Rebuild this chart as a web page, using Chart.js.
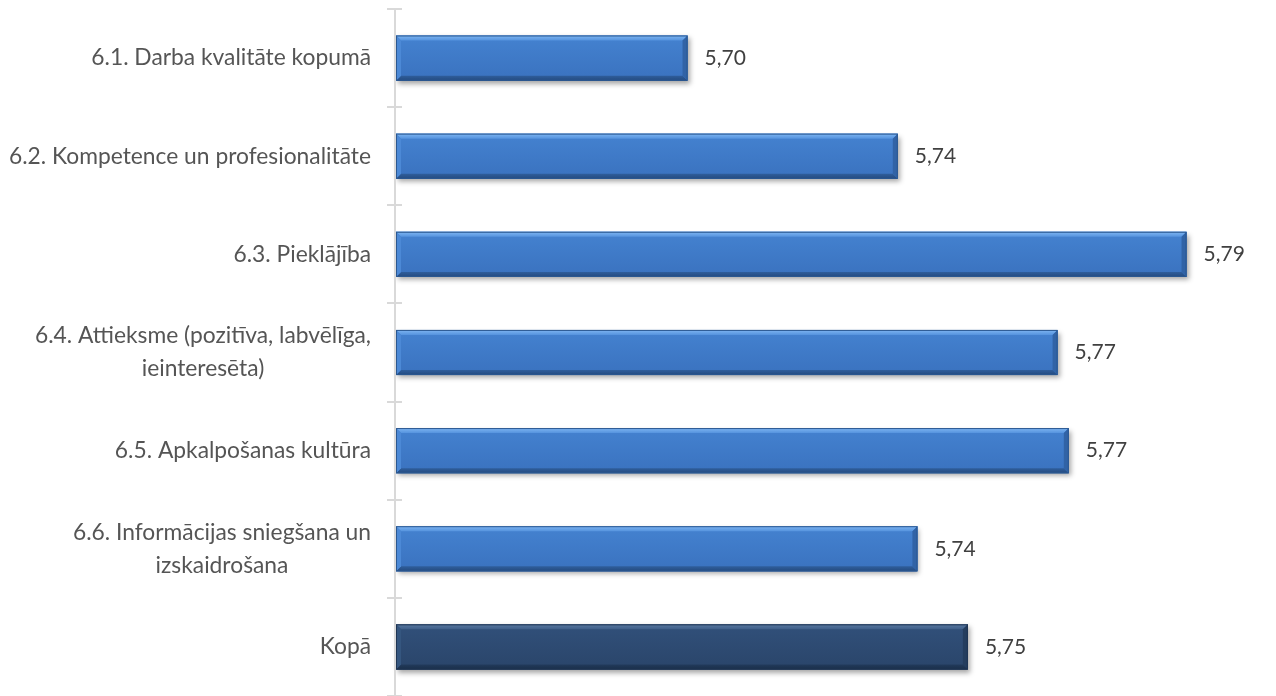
<!DOCTYPE html>
<html>
<head>
<meta charset="utf-8">
<script src="https://cdn.jsdelivr.net/npm/chart.js@4.4.1/dist/chart.umd.min.js"></script>
<style>
html,body{margin:0;padding:0;background:#fff;}
#wrap{width:1276px;height:696px;}
</style>
</head>
<body>
<div id="wrap"><canvas id="ratingsChart"></canvas></div>
<script>
const categories = [
  ['6.1. Darba kvalitāte kopumā'],
  ['6.2. Kompetence un profesionalitāte'],
  ['6.3. Pieklājība'],
  ['6.4. Attieksme (pozitīva, labvēlīga,', 'ieinteresēta)'],
  ['6.5. Apkalpošanas kultūra'],
  ['6.6. Informācijas sniegšana un', 'izskaidrošana'],
  ['Kopā']
];
const scores = [5.702, 5.7395, 5.791, 5.768, 5.770, 5.743, 5.752];
const totalIndex = 6;
const axisMin = 5.65;
const axisMax = 5.80;

const FONT = 'Lato, "Open Sans", sans-serif';

// bevel palettes: body gradient, top/bottom/left/right edges, outline
const blue = {
  body: ['#4482d0', '#3a72bf'], top: ['#7fb6f2', '#5593de'], bottom: ['#2f5e9c', '#244a7e'],
  left: '#4c89d6', right: '#3163a6', line: '#2b5891'
};
const navy = {
  body: ['#31507a', '#2a456a'], top: ['#5a7aa2', '#3e5e88'], bottom: ['#223a5b', '#1a2e49'],
  left: '#35567f', right: '#243d5e', line: '#1f3553'
};

function poly(ctx, pts, fill) {
  ctx.beginPath();
  ctx.moveTo(pts[0][0], pts[0][1]);
  for (let k = 1; k < pts.length; k++) ctx.lineTo(pts[k][0], pts[k][1]);
  ctx.closePath();
  ctx.fillStyle = fill;
  ctx.fill();
}

function vgrad(ctx, y0, y1, c) {
  const g = ctx.createLinearGradient(0, y0, 0, y1);
  g.addColorStop(0, c[0]);
  g.addColorStop(1, c[1]);
  return g;
}

const bevelBars = {
  id: 'bevelBars',
  afterDatasetsDraw(chart) {
    const ctx = chart.ctx;
    const meta = chart.getDatasetMeta(0);
    meta.data.forEach((bar, i) => {
      const p = i === totalIndex ? navy : blue;
      const {x, y, base, height} = bar.getProps(['x', 'y', 'base', 'height'], true);
      const x0 = base, x1 = x, y0 = y - height / 2, y1 = y + height / 2;
      const b = 5;
      ctx.save();
      ctx.shadowColor = 'rgba(0,0,0,0.35)';
      ctx.shadowBlur = 5;
      ctx.shadowOffsetX = 2;
      ctx.shadowOffsetY = 3;
      ctx.fillStyle = vgrad(ctx, y0, y1, p.body);
      ctx.fillRect(x0, y0, x1 - x0, y1 - y0);
      ctx.restore();

      ctx.save();
      poly(ctx, [[x0, y0], [x1, y0], [x1 - b, y0 + b], [x0 + b, y0 + b]], vgrad(ctx, y0, y0 + b, p.top));
      poly(ctx, [[x0, y1], [x1, y1], [x1 - b, y1 - b], [x0 + b, y1 - b]], vgrad(ctx, y1 - b, y1, p.bottom));
      poly(ctx, [[x0, y0], [x0 + b, y0 + b], [x0 + b, y1 - b], [x0, y1]], p.left);
      poly(ctx, [[x1, y0], [x1 - b, y0 + b], [x1 - b, y1 - b], [x1, y1]], p.right);
      ctx.strokeStyle = p.line;
      ctx.lineWidth = 1;
      ctx.strokeRect(x0 + 0.5, y0 + 0.5, x1 - x0 - 1, y1 - y0 - 1);
      ctx.restore();

      // value label
      ctx.save();
      ctx.font = '21px ' + FONT;
      ctx.fillStyle = '#404040';
      ctx.textAlign = 'left';
      ctx.textBaseline = 'middle';
      ctx.fillText(scores[i].toFixed(2).replace('.', ','), x1 + 17, y);
      ctx.restore();
    });
  },
  afterDraw(chart) {
    const ctx = chart.ctx;
    const yScale = chart.scales.y;
    const area = chart.chartArea;
    const n = categories.length;
    const band = (area.bottom - area.top) / n;
    const ax = area.left - 1;

    // vertical axis with crossing tick marks at category boundaries
    ctx.save();
    ctx.strokeStyle = '#d9d9d9';
    ctx.lineWidth = 2;
    ctx.beginPath();
    ctx.moveTo(ax, area.top - 1);
    ctx.lineTo(ax, chart.height);
    for (let k = 0; k <= n; k++) {
      const ty = Math.round(area.top + k * band);
      ctx.moveTo(ax - 8, ty);
      ctx.lineTo(ax + 7, ty);
    }
    ctx.stroke();
    ctx.restore();

    // category labels, each block right-aligned, lines centred within it
    ctx.save();
    ctx.font = '22.8px ' + FONT;
    ctx.fillStyle = '#555555';
    ctx.textAlign = 'center';
    ctx.textBaseline = 'middle';
    const lineH = 33;
    const right = area.left - 25;
    categories.forEach((lines, i) => {
      const cy = yScale.getPixelForValue(i);
      const w = Math.max(...lines.map(t => ctx.measureText(t).width));
      const cx = right - w / 2;
      lines.forEach((t, k) => {
        ctx.fillText(t, cx, cy + (k - (lines.length - 1) / 2) * lineH);
      });
    });
    ctx.restore();
  }
};

new Chart(document.getElementById('ratingsChart'), {
  type: 'bar',
  data: {
    labels: categories,
    datasets: [{
      data: scores,
      base: axisMin,
      backgroundColor: scores.map((v, i) => i === totalIndex ? navy.body[0] : blue.body[0]),
      borderWidth: 0,
      barPercentage: 0.46,
      categoryPercentage: 1
    }]
  },
  options: {
    indexAxis: 'y',
    responsive: true,
    maintainAspectRatio: false,
    animation: false,
    layout: { padding: { left: 396, right: 39, top: 9, bottom: 0 } },
    scales: {
      x: { display: false, min: axisMin, max: axisMax },
      y: { display: false }
    },
    plugins: {
      legend: { display: false },
      tooltip: { enabled: false }
    }
  },
  plugins: [bevelBars]
});
</script>
</body>
</html>
